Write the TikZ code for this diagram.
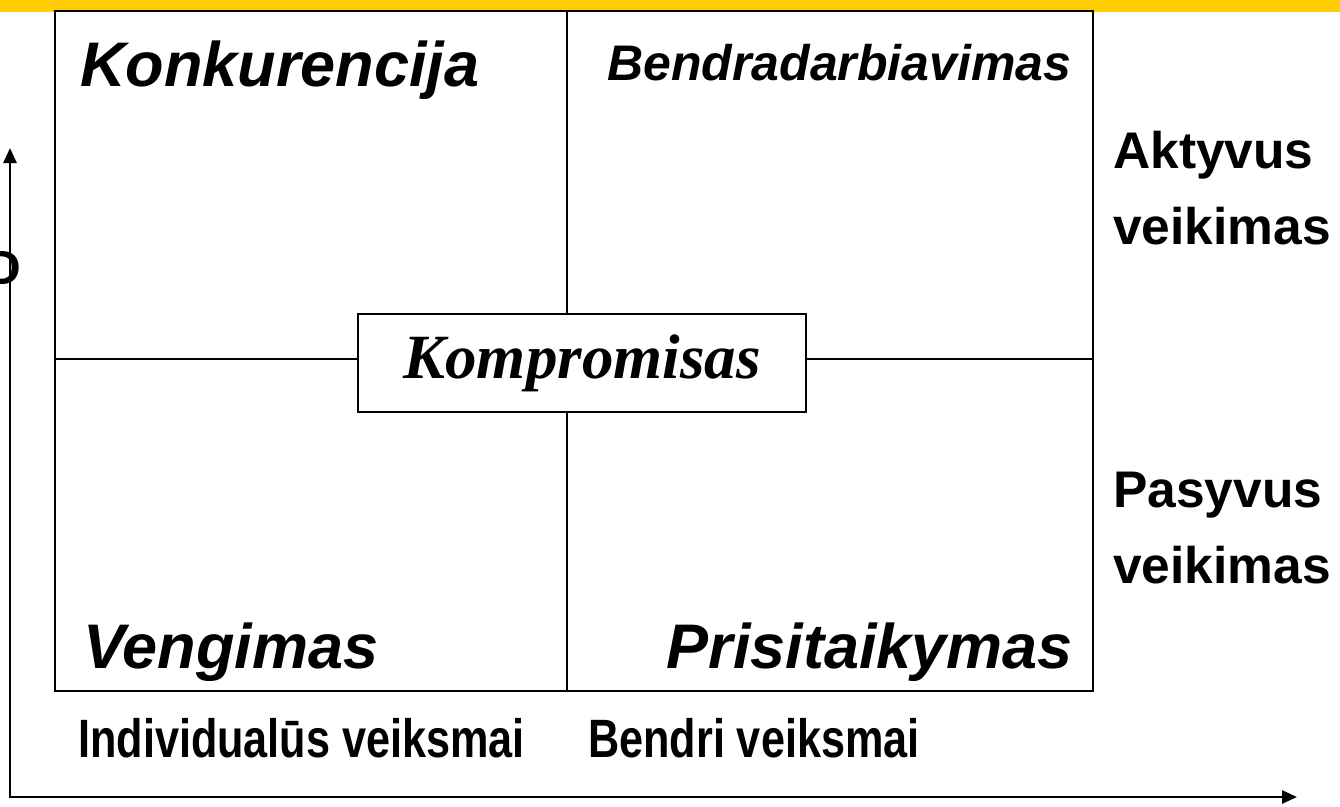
\documentclass[tikz,border=0pt]{standalone}
\usepackage{fontspec}
\usetikzlibrary{arrows.meta}
\setmainfont{Liberation Sans}
\newfontfamily\timesfont{Liberation Serif}
\newfontfamily\narrowfont[FakeStretch=0.8]{Liberation Sans}
\definecolor{barYellow}{HTML}{FFCC00}
\tikzset{
    quadlabel/.style={inner sep=0pt, font=\fontsize{63}{63}\selectfont\bfseries\itshape},
    sidelabel/.style={inner sep=0pt, align=left, font=\fontsize{51.5}{76}\selectfont\bfseries},
    axislabel/.style={inner sep=0pt, font=\fontsize{54}{54}\narrowfont\bfseries},
    frame/.style={line width=2.3pt},
    axis/.style={line width=2.8pt, {Triangle[length=15pt,width=13pt]}-{Triangle[length=15pt,width=13pt]}}
}
\begin{document}
\begin{tikzpicture}[x=1pt, y=-1pt]
    \useasboundingbox (0,0) rectangle (1340,806);
    \fill[barYellow] (0,0) rectangle (1340,12);

    \coordinate (nw) at (55,11);
    \coordinate (se) at (1093,691);
    \coordinate (midtop) at (567,11);
    \coordinate (midbot) at (567,691);
    \coordinate (midleft) at (55,359);
    \coordinate (midright) at (1093,359);

    \draw[frame] (nw) rectangle (se);
    \draw[frame] (midtop) -- (midbot);
    \draw[frame] (midleft) -- (midright);

    \node[draw, frame, fill=white, minimum width=448pt, minimum height=98pt, inner sep=0pt,
          font=\fontsize{63}{63}\timesfont\bfseries\itshape] (komp) at (582,363) {Kompromisas};

    \node[quadlabel, anchor=base west] (konk) at (80,86) {Konkurencija};
    \node[quadlabel, anchor=base west, font=\fontsize{50}{50}\selectfont\bfseries\itshape] (bendr) at (607,80) {Bendradarbiavimas};
    \node[quadlabel, anchor=base west] (veng) at (83,668) {Vengimas};
    \node[quadlabel, anchor=base east] (prisit) at (1073,668) {Prisitaikymas};

    \node[sidelabel, anchor=base west] (akt) at (1113,244) {Aktyvus\\veikimas};
    \node[sidelabel, anchor=base west] (pas) at (1113,583) {Pasyvus\\veikimas};

    \node[axislabel, anchor=base west] (indiv) at (78,757) {Individualūs veiksmai};
    \node[axislabel, anchor=base west] (bendri) at (588,757) {Bendri veiksmai};
    \node[inner sep=0pt, anchor=base east, font=\fontsize{48}{48}\selectfont\bfseries] (cutD) at (21,284) {D};

    % axes
    \coordinate (origin) at (10,797);
    \coordinate (ytip) at (10,148);
    \coordinate (xtip) at (1297,797);
    \draw[axis] (ytip) -- (origin) -- (xtip);
\end{tikzpicture}
\end{document}
